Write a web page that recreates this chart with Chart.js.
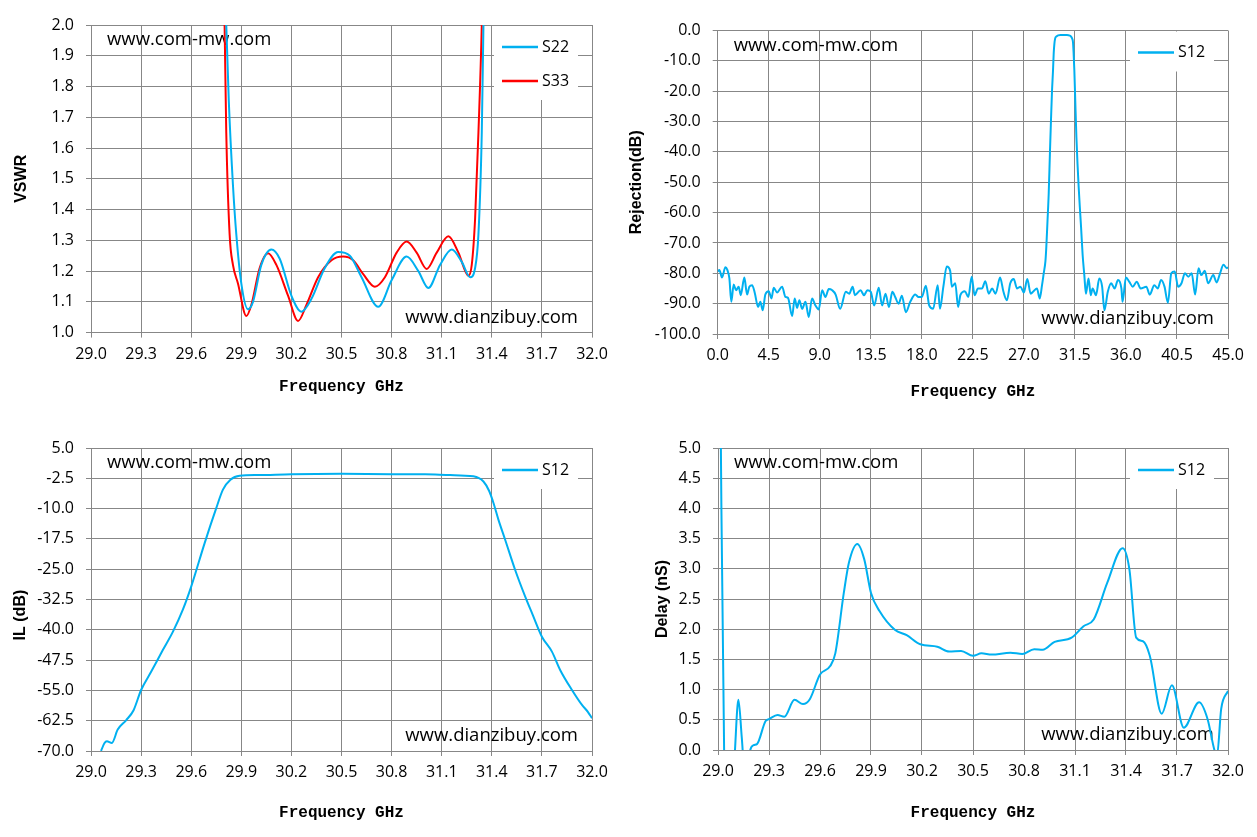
<!DOCTYPE html>
<html>
<head>
<meta charset="utf-8">
<script src="https://cdn.jsdelivr.net/npm/chart.js@4.4.1/dist/chart.umd.min.js"></script>
<style>
  body { margin: 0; background: #fff; width: 1257px; height: 837px; overflow: hidden; position: relative; }
  .panel { position: absolute; }
</style>
</head>
<body>
<div class="panel" style="left:0;top:0;width:620px;height:418px"><canvas id="vswr"></canvas></div>
<div class="panel" style="left:620px;top:0;width:637px;height:418px"><canvas id="rejection"></canvas></div>
<div class="panel" style="left:0;top:418px;width:620px;height:419px"><canvas id="il"></canvas></div>
<div class="panel" style="left:620px;top:418px;width:637px;height:419px"><canvas id="delay"></canvas></div>
<script>
// ---- data ----
const siteTop = 'www.com-mw.com';
const siteBottom = 'www.dianzibuy.com';

// VSWR, 29-32 GHz
const vswrFreqS22 = [29.78, 29.81, 29.825, 29.85, 29.87, 29.90, 29.94, 29.97, 30.02, 30.08, 30.13, 30.20, 30.26, 30.32, 30.40, 30.48, 30.55, 30.62, 30.72, 30.80, 30.89, 30.96, 31.02, 31.09, 31.16, 31.22, 31.27, 31.30, 31.32, 31.34, 31.35, 31.37];
const vswrS22 = [2.6, 2.0, 1.755, 1.48, 1.32, 1.16, 1.076, 1.10, 1.22, 1.27, 1.24, 1.12, 1.068, 1.11, 1.21, 1.262, 1.25, 1.18, 1.084, 1.17, 1.247, 1.20, 1.145, 1.22, 1.27, 1.23, 1.18, 1.21, 1.32, 1.65, 2.0, 2.6];
const vswrFreqS33 = [29.78, 29.80, 29.81, 29.83, 29.85, 29.88, 29.93, 29.96, 30.01, 30.06, 30.11, 30.18, 30.24, 30.29, 30.36, 30.44, 30.51, 30.57, 30.63, 30.70, 30.76, 30.83, 30.89, 30.95, 31.01, 31.07, 31.14, 31.20, 31.26, 31.28, 31.30, 31.32, 31.34, 31.36];
const vswrS33 = [2.6, 2.0, 1.65, 1.32, 1.22, 1.16, 1.054, 1.09, 1.21, 1.258, 1.22, 1.12, 1.038, 1.09, 1.18, 1.235, 1.247, 1.235, 1.19, 1.149, 1.18, 1.26, 1.296, 1.26, 1.207, 1.26, 1.313, 1.26, 1.185, 1.22, 1.37, 1.65, 2.0, 2.6];

// Rejection (S12), 0-45 GHz
const rejFreq = [0, 0.15, 0.38, 0.68, 0.85, 1.03, 1.2, 1.41, 1.62, 1.85, 2.03, 2.35, 2.59, 2.79, 3.03, 3.26, 3.56, 3.76, 3.97, 4.2,
  4.5, 4.74, 4.94, 5.24, 5.68, 5.97, 6.2, 6.56, 6.79, 7.0, 7.2, 7.44, 7.74, 8.03, 8.32, 8.62, 8.91, 9.21, 9.5, 9.79,
  10.1, 10.4, 10.8, 11.3, 11.6, 11.9, 12.1, 12.6, 12.9, 13.2, 13.5, 13.8, 14.2, 14.5, 14.8, 15.1, 15.4, 15.65, 15.95, 16.24,
  16.59, 16.98, 17.42, 17.71, 18.0, 18.36, 18.65, 19.0, 19.4, 19.6, 19.9, 20.2, 20.5, 20.65, 20.95, 21.2, 21.4, 21.8, 22.1, 22.4,
  22.65, 22.95, 23.3, 23.6, 23.9, 24.2, 24.5, 24.9, 25.2, 25.5, 25.8, 26.1, 26.4, 26.7, 27.0, 27.3, 27.6, 27.85, 28.15, 28.4,
  28.6, 28.75, 28.9, 28.98, 29.08, 29.19, 29.3, 29.39, 29.48, 29.57, 29.63, 29.69, 29.76, 29.86, 30.22, 30.8, 31.05, 31.16, 31.25, 31.33,
  31.38, 31.45, 31.53, 31.63, 31.73, 31.83, 31.93, 32.04, 32.18, 32.33, 32.47, 32.7, 32.9, 33.06, 33.36, 33.65, 33.9, 34.1, 34.4, 34.7,
  35.0, 35.3, 35.6, 35.7, 36.0, 36.3, 36.6, 36.95, 37.3, 37.8, 38.1, 38.5, 38.8, 39.1, 39.4, 39.7, 40.0, 40.3, 40.6, 40.9,
  41.2, 41.5, 41.8, 42.1, 42.4, 42.65, 42.95, 43.25, 43.7, 44.0, 44.3, 44.6, 44.9, 45];
const rejDb = [-79.4, -78.9, -81.4, -78, -78.9, -81.7, -89.4, -83.7, -85.6, -84.4, -87.2, -81.4, -87, -84.4, -83.9, -86.3, -91.1, -89.4, -92.2, -87,
  -85.9, -88.3, -84.8, -86.3, -84.4, -87.8, -88.1, -94.1, -88.3, -91.4, -88.9, -91.7, -89.4, -94.4, -88.3, -90.6, -91.9, -85.6, -87.8, -85.2,
  -85.6, -87, -91.7, -86.1, -86.7, -84.4, -87.2, -85.6, -87.2, -85.6, -86.1, -90.6, -84.8, -90.6, -86.7, -91.1, -86.1, -87.8, -90, -87.4,
  -92.8, -89.4, -87, -87.8, -87.8, -84.1, -90.6, -91.7, -83.9, -91.7, -84.4, -77.8, -79.2, -84.4, -83.3, -91.1, -87.2, -85.9, -87.8, -81.1,
  -87.2, -85, -85, -82.6, -86.7, -85, -86.7, -81.4, -86.1, -88.9, -83.3, -81.9, -85, -84.4, -86.3, -81.9, -86.7, -85.9, -85, -88.3,
  -83.9, -80, -76, -71.2, -63, -53.7, -40, -29.6, -20, -13.1, -7.5, -4.4, -2.6, -2.0, -1.5, -1.5, -1.7, -2.0, -2.6, -3.8,
  -7, -13.1, -23, -35, -44, -51.5, -58, -64.6, -73.9, -80.6, -86.7, -81.7, -87.2, -85, -87.2, -81.7, -84.4, -92.2, -86.1, -83.3,
  -85, -82.2, -85, -89.4, -81.4, -82.8, -84.4, -82.8, -85, -84.4, -87, -83.9, -85, -82.2, -84.4, -89.7, -80, -79.4, -84.4, -83.3,
  -80, -81.1, -80, -87, -78.3, -80.6, -79.2, -83.3, -80.6, -83, -80, -77.2, -78.3, -78];

// Insertion loss (S12), 29-32 GHz
const ilFreq = [29.06, 29.08, 29.095, 29.125, 29.16, 29.21, 29.255, 29.30, 29.36, 29.43, 29.49, 29.55, 29.60, 29.68, 29.75, 29.79, 29.835, 29.89, 30.0, 30.2,
  30.5, 30.8, 31.0, 31.15, 31.29, 31.35, 31.385, 31.41, 31.44, 31.48, 31.54, 31.60, 31.645, 31.70, 31.76, 31.81, 31.88, 31.94, 31.975, 32.0];
const ilDb = [-70.0, -68.1, -67.6, -68.0, -64.7, -62.4, -59.9, -54.9, -50.4, -45.0, -40.5, -35.0, -29.3, -18.6, -9.9, -5.3, -2.85, -1.86, -1.7, -1.5,
  -1.4, -1.5, -1.5, -1.7, -2.0, -3.3, -5.7, -8.6, -12.8, -17.7, -25.2, -31.8, -36.3, -41.7, -45.4, -50.0, -54.9, -58.6, -60.3, -61.9];

// Group delay (S12), 29-32 GHz
const delayFreq = [29.005, 29.02, 29.036, 29.05, 29.08, 29.10, 29.12, 29.14, 29.155, 29.175, 29.19, 29.21, 29.23, 29.28, 29.30, 29.35, 29.39, 29.45, 29.50, 29.54,
  29.60, 29.66, 29.69, 29.74, 29.77, 29.82, 29.86, 29.90, 29.95, 30.04, 30.11, 30.19, 30.29, 30.36, 30.43, 30.50, 30.55, 30.61, 30.72, 30.79,
  30.86, 30.91, 30.98, 31.08, 31.15, 31.21, 31.29, 31.38, 31.42, 31.46, 31.50, 31.54, 31.61, 31.67, 31.74, 31.83, 31.88, 31.92, 31.935, 31.96, 32.0];
const delayNs = [9, 4, 0, -1.5, -1.2, 0, 0.83, 0.2, -0.3, -0.3, 0, 0.08, 0.1, 0.48, 0.51, 0.58, 0.55, 0.83, 0.76, 0.84,
  1.25, 1.39, 1.6, 2.6, 3.1, 3.41, 3.16, 2.6, 2.3, 1.99, 1.9, 1.75, 1.71, 1.63, 1.64, 1.56, 1.6, 1.58, 1.61, 1.59,
  1.67, 1.66, 1.79, 1.86, 2.05, 2.16, 2.77, 3.34, 2.99, 1.86, 1.8, 1.56, 0.6, 1.07, 0.37, 0.79, 0.51, 0, -0.1, 0.68, 0.98];

// tick labels
const bandTicks = [29.0, 29.3, 29.6, 29.9, 30.2, 30.5, 30.8, 31.1, 31.4, 31.7, 32.0];
const wideTicks = [0, 4.5, 9, 13.5, 18, 22.5, 27, 31.5, 36, 40.5, 45];
const vswrTicks = [1.0, 1.1, 1.2, 1.3, 1.4, 1.5, 1.6, 1.7, 1.8, 1.9, 2.0];
const rejTicks = [0, -10, -20, -30, -40, -50, -60, -70, -80, -90, -100];
const ilTicks = [5, -2.5, -10, -17.5, -25, -32.5, -40, -47.5, -55, -62.5, -70];
const delayTicks = [0, 0.5, 1, 1.5, 2, 2.5, 3, 3.5, 4, 4.5, 5];

const BLUE = '#00B0F0';
const RED = '#FF0000';
const GRID = '#878787';

// join x and y arrays into points
function pts(xs, ys) {
  return xs.map((x, i) => ({ x: x, y: ys[i] }));
}

// site names written inside the plot
const watermark = {
  id: 'watermark',
  beforeDatasetsDraw(chart) {
    const { ctx, chartArea: a } = chart;
    ctx.save();
    ctx.font = '18.5px "Open Sans"';
    ctx.fillStyle = '#000';
    ctx.textBaseline = 'middle';
    ctx.textAlign = 'left';
    ctx.fillText(siteTop, a.left + 16, a.top + 15);
    ctx.textAlign = 'right';
    ctx.fillText(siteBottom, a.right - 14, a.bottom - 15);
    ctx.restore();
  }
};

// Excel style legend on a white patch in the top right corner
const boxLegend = {
  id: 'boxLegend',
  afterDatasetsDraw(chart) {
    const { ctx, chartArea: a } = chart;
    const sets = chart.data.datasets;
    ctx.save();
    ctx.fillStyle = '#fff';
    ctx.fillRect(a.right - 98, a.top + 1, 84, 6 + 34 * sets.length);
    ctx.font = '16px "Open Sans"';
    ctx.textBaseline = 'middle';
    ctx.textAlign = 'left';
    sets.forEach((ds, i) => {
      const y = a.top + 22 + 34 * i;
      ctx.strokeStyle = ds.borderColor;
      ctx.lineWidth = 2.5;
      ctx.beginPath();
      ctx.moveTo(a.right - 90, y);
      ctx.lineTo(a.right - 54, y);
      ctx.stroke();
      ctx.fillStyle = '#000';
      ctx.fillText(ds.label, a.right - 50, y);
    });
    ctx.restore();
  }
};

function makeChart(id, cfg) {
  const tickFont = { family: 'Open Sans', size: 16 };
  return new Chart(document.getElementById(id), {
    type: 'line',
    data: {
      datasets: cfg.series.map(s => ({
        label: s.label,
        data: s.data,
        borderColor: s.color,
        borderWidth: 2,
        pointRadius: 0,
        fill: false,
        cubicInterpolationMode: 'monotone'
      }))
    },
    options: {
      responsive: true,
      maintainAspectRatio: false,
      animation: false,
      layout: { padding: { left: 0, right: cfg.padRight, top: cfg.padTop, bottom: cfg.padBottom } },
      plugins: { legend: { display: false }, tooltip: { enabled: false } },
      scales: {
        x: {
          type: 'linear',
          min: cfg.xMin,
          max: cfg.xMax,
          afterBuildTicks: s => { s.ticks = cfg.xTicks.map(v => ({ value: v })); },
          afterFit: s => { s.height = cfg.xHeight; },
          grid: { color: GRID, tickLength: 5 },
          border: { color: GRID },
          ticks: { font: tickFont, color: '#000', padding: 7, autoSkip: false, maxRotation: 0,
                   callback: v => v.toFixed(1) },
          title: { display: true, text: 'Frequency GHz', color: '#000', padding: 0,
                   font: { family: 'Liberation Mono', size: 16, weight: 'bold' } }
        },
        y: {
          min: cfg.yMin,
          max: cfg.yMax,
          afterBuildTicks: s => { s.ticks = cfg.yTicks.map(v => ({ value: v })); },
          afterFit: s => { s.width = cfg.yWidth; },
          grid: { color: GRID, tickLength: 5 },
          border: { color: GRID },
          ticks: { font: tickFont, color: '#000', padding: 12, autoSkip: false,
                   callback: v => v.toFixed(1) },
          title: { display: true, text: cfg.yTitle, color: '#000', padding: { top: cfg.yTitlePad, bottom: 0 },
                   font: { family: 'Liberation Sans', size: 16, weight: 'bold' } }
        }
      }
    },
    plugins: [watermark, boxLegend]
  });
}

makeChart('vswr', {
  series: [
    { label: 'S22', data: pts(vswrFreqS22, vswrS22), color: BLUE },
    { label: 'S33', data: pts(vswrFreqS33, vswrS33), color: RED }
  ],
  xMin: 29, xMax: 32, xTicks: bandTicks,
  yMin: 1, yMax: 2, yTicks: vswrTicks, yTitle: 'VSWR',
  padRight: 28, padTop: 25, padBottom: 21.4, xHeight: 64, yWidth: 91, yTitlePad: 12
});

makeChart('rejection', {
  series: [{ label: 'S12', data: pts(rejFreq, rejDb), color: BLUE }],
  xMin: 0, xMax: 45, xTicks: wideTicks,
  yMin: -100, yMax: 0, yTicks: rejTicks, yTitle: 'Rejection(dB)',
  padRight: 29, padTop: 30.5, padBottom: 16.4, xHeight: 67.6, yWidth: 97.7, yTitlePad: 7.4
});

makeChart('il', {
  series: [{ label: 'S12', data: pts(ilFreq, ilDb), color: BLUE }],
  xMin: 29, xMax: 32, xTicks: bandTicks,
  yMin: -70, yMax: 5, yTicks: ilTicks, yTitle: 'IL (dB)       ',
  padRight: 28, padTop: 30, padBottom: 14.4, xHeight: 71.6, yWidth: 91, yTitlePad: 11.4
});

makeChart('delay', {
  series: [{ label: 'S12', data: pts(delayFreq, delayNs), color: BLUE }],
  xMin: 29, xMax: 32, xTicks: bandTicks,
  yMin: 0, yMax: 5, yTicks: delayTicks, yTitle: 'Delay (nS)',
  padRight: 29, padTop: 30, padBottom: 14.4, xHeight: 72.6, yWidth: 98, yTitlePad: 33.4
});
</script>
</body>
</html>
